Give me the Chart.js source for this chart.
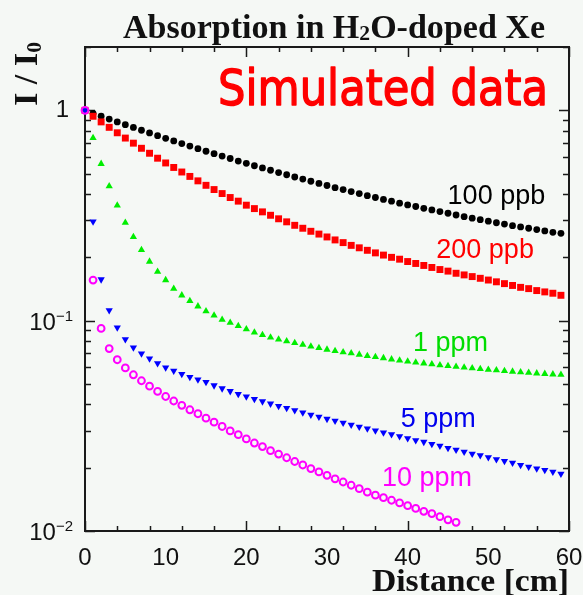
<!DOCTYPE html>
<html>
<head>
<meta charset="utf-8">
<script src="https://cdn.jsdelivr.net/npm/chart.js@4.4.1/dist/chart.umd.min.js"></script>
<style>
html, body { margin: 0; padding: 0; background: #f5f8f5; }
</style>
</head>
<body>
<canvas id="chart1" width="583" height="595"></canvas>
<script>
// distance in cm
const distance = [0, 1, 2, 3, 4, 5, 6, 7, 8, 9, 10, 11, 12, 13, 14, 15, 16, 17, 18, 19,
    20, 21, 22, 23, 24, 25, 26, 27, 28, 29, 30, 31, 32, 33, 34, 35, 36, 37, 38, 39,
    40, 41, 42, 43, 44, 45, 46, 47, 48, 49, 50, 51, 52, 53, 54, 55, 56, 57, 58, 59];

// I / I0 for each water concentration
const ppb100 = [1, .968, .938, .909, .881, .855, .829, .804, .781, .758,
    .736, .715, .695, .676, .657, .639, .622, .606, .590, .574,
    .560, .545, .532, .519, .506, .494, .482, .471, .460, .449,
    .439, .429, .420, .411, .402, .393, .385, .377, .370, .362,
    .355, .349, .342, .336, .330, .324, .318, .312, .307, .302,
    .297, .292, .288, .283, .279, .275, .271, .267, .263, .260];
const ppb200 = [1, .937, .881, .830, .782, .738, .698, .660, .625, .592,
    .562, .535, .509, .485, .462, .440, .420, .402, .385, .370,
    .354, .341, .329, .317, .305, .295, .284, .275, .266, .258,
    .250, .242, .235, .228, .222, .216, .210, .205, .200, .196,
    .191, .187, .183, .179, .175, .172, .168, .165, .162, .159,
    .156, .153, .150, .147, .144, .142, .139, .137, .135, .132];
const ppm1 = [1, .739, .557, .436, .353, .292, .250, .217, .191, .171,
    .156, .142, .132, .124, .117, .111, .106, .101, .0978, .0944,
    .0911, .0880, .0856, .0833, .0815, .0798, .0784, .0769, .0755, .0742,
    .0729, .0718, .0708, .0700, .0690, .0680, .0673, .0664, .0655, .0647,
    .0640, .0633, .0627, .0621, .0614, .0609, .0604, .0599, .0594, .0590,
    .0585, .0581, .0577, .0573, .0569, .0566, .0562, .0559, .0556, .0553];
const ppm5 = [1, .296, .157, .112, .0927, .0815, .0745, .0698, .0660, .0627,
    .0599, .0578, .0557, .0539, .0525, .0510, .0492, .0476, .0462, .0448,
    .0436, .0424, .0413, .0403, .0393, .0384, .0375, .0366, .0357, .0349,
    .0341, .0334, .0327, .0320, .0313, .0307, .0300, .0294, .0288, .0282,
    .0276, .0270, .0265, .0259, .0254, .0248, .0243, .0238, .0233, .0229,
    .0224, .0219, .0215, .0211, .0206, .0202, .0198, .0195, .0191, .0187];
const ppm10 = [1, .156, .0919, .0737, .0652, .0596, .0553, .0518, .0488, .0461,
    .0436, .0415, .0396, .0377, .0361, .0344, .0329, .0314, .0299, .0287,
    .0274, .0262, .0252, .0241, .0232, .0223, .0214, .0206, .0198, .0191,
    .0184, .0177, .0171, .0165, .0159, .0153, .0148, .0144, .0140, .0136,
    .0132, .0128, .0124, .0121, .0117, .0113, .0110];

const seriesNames = ['100 ppb', '200 ppb', '1 ppm', '5 ppm', '10 ppm'];
// where each curve label sits, in data units (distance, I/I0)
const labelX = [51.0, 49.6, 45.3, 43.8, 42.4];
const labelY = [0.402, 0.221, 0.0804, 0.0349, 0.0182];

const xTicks = [0, 10, 20, 30, 40, 50, 60];

function pts(ys) {
    return ys.map((v, i) => ({ x: distance[i], y: v }));
}

// draws text squeezed/stretched to a given width
function fitText(ctx, runs, x, y, width, outline) {
    let w = 0;
    runs.forEach(r => { ctx.font = r.font; w += ctx.measureText(r.t).width; });
    const sx = width / w;
    ctx.save();
    ctx.translate(x, y);
    ctx.scale(sx, 1);
    let cx = 0;
    runs.forEach(r => {
        ctx.font = r.font;
        ctx.fillText(r.t, cx, r.dy || 0);
        if (outline) {
            ctx.lineWidth = outline;
            ctx.strokeText(r.t, cx, r.dy || 0);
        }
        cx += ctx.measureText(r.t).width;
    });
    ctx.restore();
}

const background = {
    id: 'background',
    beforeDraw(chart) {
        const ctx = chart.ctx;
        ctx.save();
        ctx.fillStyle = '#f5f8f5';
        ctx.fillRect(0, 0, chart.width, chart.height);
        ctx.restore();
    }
};

const frame = {
    id: 'frame',
    beforeDatasetsDraw(chart) {
        const ctx = chart.ctx, a = chart.chartArea;
        const xs = chart.scales.x, ys = chart.scales.y;
        ctx.save();
        ctx.strokeStyle = '#1a1a1a';
        ctx.lineWidth = 1.5;
        ctx.beginPath();
        xs.ticks.forEach(t => {
            const px = Math.round(xs.getPixelForValue(t.value)) + 0.5;
            const len = t.value % 10 === 0 ? 10 : 5;
            ctx.moveTo(px, a.bottom); ctx.lineTo(px, a.bottom - len);
            ctx.moveTo(px, a.top); ctx.lineTo(px, a.top + len);
        });
        ys.ticks.forEach(t => {
            const e = Math.floor(Math.log10(t.value) + 1e-9);
            const m = t.value / Math.pow(10, e);
            if (Math.abs(m - Math.round(m)) > 1e-6) return;
            const py = Math.round(ys.getPixelForValue(t.value)) + 0.5;
            const len = Math.round(m) === 1 ? 10 : 6;
            ctx.moveTo(a.left, py); ctx.lineTo(a.left + len, py);
            ctx.moveTo(a.right, py); ctx.lineTo(a.right - len, py);
        });
        ctx.stroke();
        ctx.lineWidth = 2;
        ctx.strokeRect(a.left, a.top, a.right - a.left, a.bottom - a.top);

        // tick labels
        ctx.fillStyle = '#111';
        ctx.textAlign = 'center';
        ctx.textBaseline = 'alphabetic';
        ctx.font = '24px "Liberation Sans", Arial, sans-serif';
        xTicks.forEach(v => {
            ctx.fillText(String(v), xs.getPixelForValue(v), a.bottom + 34);
        });
        [0, -1, -2].forEach(e => {
            const py = ys.getPixelForValue(Math.pow(10, e));
            ctx.textAlign = 'right';
            if (e === 0) {
                ctx.font = '24px "Liberation Sans", Arial, sans-serif';
                ctx.fillText('1', a.left - 16, py + 7);
            } else {
                ctx.font = '15px "Liberation Sans", Arial, sans-serif';
                const sup = '\u2212' + (-e);
                const sw = ctx.measureText(sup).width;
                ctx.fillText(sup, a.left - 12, py);
                ctx.font = '24px "Liberation Sans", Arial, sans-serif';
                ctx.fillText('10', a.left - 12 - sw, py + 9);
            }
        });
        ctx.restore();
    },
    afterDatasetsDraw(chart) {
        const ctx = chart.ctx, a = chart.chartArea;
        const xs = chart.scales.x, ys = chart.scales.y;
        ctx.save();
        ctx.textBaseline = 'alphabetic';

        // curve labels
        ctx.font = '27px "Liberation Sans", Arial, sans-serif';
        ctx.textAlign = 'center';
        chart.data.datasets.forEach((ds, i) => {
            ctx.fillStyle = ds.labelColor;
            const px = xs.getPixelForValue(labelX[i]);
            const py = ys.getPixelForValue(labelY[i]);
            ctx.fillText(seriesNames[i], px, py + 10);
        });
        ctx.textAlign = 'left';

        // title
        ctx.fillStyle = '#111';
        const serif = '"Liberation Serif", "Times New Roman", serif';
        fitText(ctx, [
            { t: 'Absorption in H', font: 'bold 33px ' + serif },
            { t: '2', font: 'bold 21px ' + serif, dy: 2 },
            { t: 'O-doped Xe', font: 'bold 33px ' + serif }
        ], 123, 38, 422);

        // x axis title
        fitText(ctx, [{ t: 'Distance [cm]', font: 'bold 32px ' + serif }], a.right - 197, 591, 197);

        // y axis title
        ctx.save();
        ctx.translate(37, 106);
        ctx.rotate(-Math.PI / 2);
        fitText(ctx, [
            { t: 'I / I', font: 'bold 33px ' + serif },
            { t: '0', font: 'bold 21px ' + serif, dy: 4 }
        ], 0, 0, 64);
        ctx.restore();

        // overlay note
        ctx.fillStyle = '#ff0000';
        ctx.strokeStyle = '#ff0000';
        ctx.lineJoin = 'round';
        fitText(ctx, [{ t: 'Simulated data', font: '50px "DejaVu Sans", sans-serif' }], 218, 105, 330, 1.4);
        ctx.restore();
    }
};

const config1 = {
    type: 'scatter',
    data: {
        datasets: [{
            label: seriesNames[0],
            data: pts(ppb100),
            pointStyle: 'circle',
            pointRadius: 3.4,
            backgroundColor: '#000000',
            borderWidth: 0,
            labelColor: '#000000',
            order: 5,
            clip: false
        }, {
            label: seriesNames[1],
            data: pts(ppb200),
            pointStyle: 'rect',
            pointRadius: 4.9,
            backgroundColor: '#ff0000',
            borderWidth: 0,
            labelColor: '#ff0000',
            order: 4,
            clip: false
        }, {
            label: seriesNames[2],
            data: pts(ppm1),
            pointStyle: 'triangle',
            pointRadius: 4.2,
            backgroundColor: '#00ee00',
            borderWidth: 0,
            labelColor: '#00dd00',
            order: 3,
            clip: false
        }, {
            label: seriesNames[3],
            data: pts(ppm5),
            pointStyle: 'triangle',
            rotation: 180,
            pointRadius: 4.2,
            backgroundColor: '#0000ff',
            borderWidth: 0,
            labelColor: '#0000ee',
            order: 2,
            clip: false
        }, {
            label: seriesNames[4],
            data: pts(ppm10),
            pointStyle: 'circle',
            pointRadius: 3.4,
            backgroundColor: 'rgba(0,0,0,0)',
            borderColor: '#ff00ff',
            borderWidth: 2,
            labelColor: '#ff00ff',
            order: 1,
            clip: false
        }]
    },
    options: {
        responsive: false,
        animation: false,
        layout: { padding: { left: 85, right: 14, top: 47, bottom: 64 } },
        scales: {
            x: { type: 'linear', min: 0, max: 60, display: false, ticks: { stepSize: 2 } },
            y: { type: 'logarithmic', min: 0.01, max: 2, display: false }
        },
        plugins: {
            legend: { display: false },
            tooltip: { enabled: false }
        }
    },
    plugins: [background, frame]
};

new Chart(document.getElementById('chart1'), config1);
</script>
</body>
</html>
